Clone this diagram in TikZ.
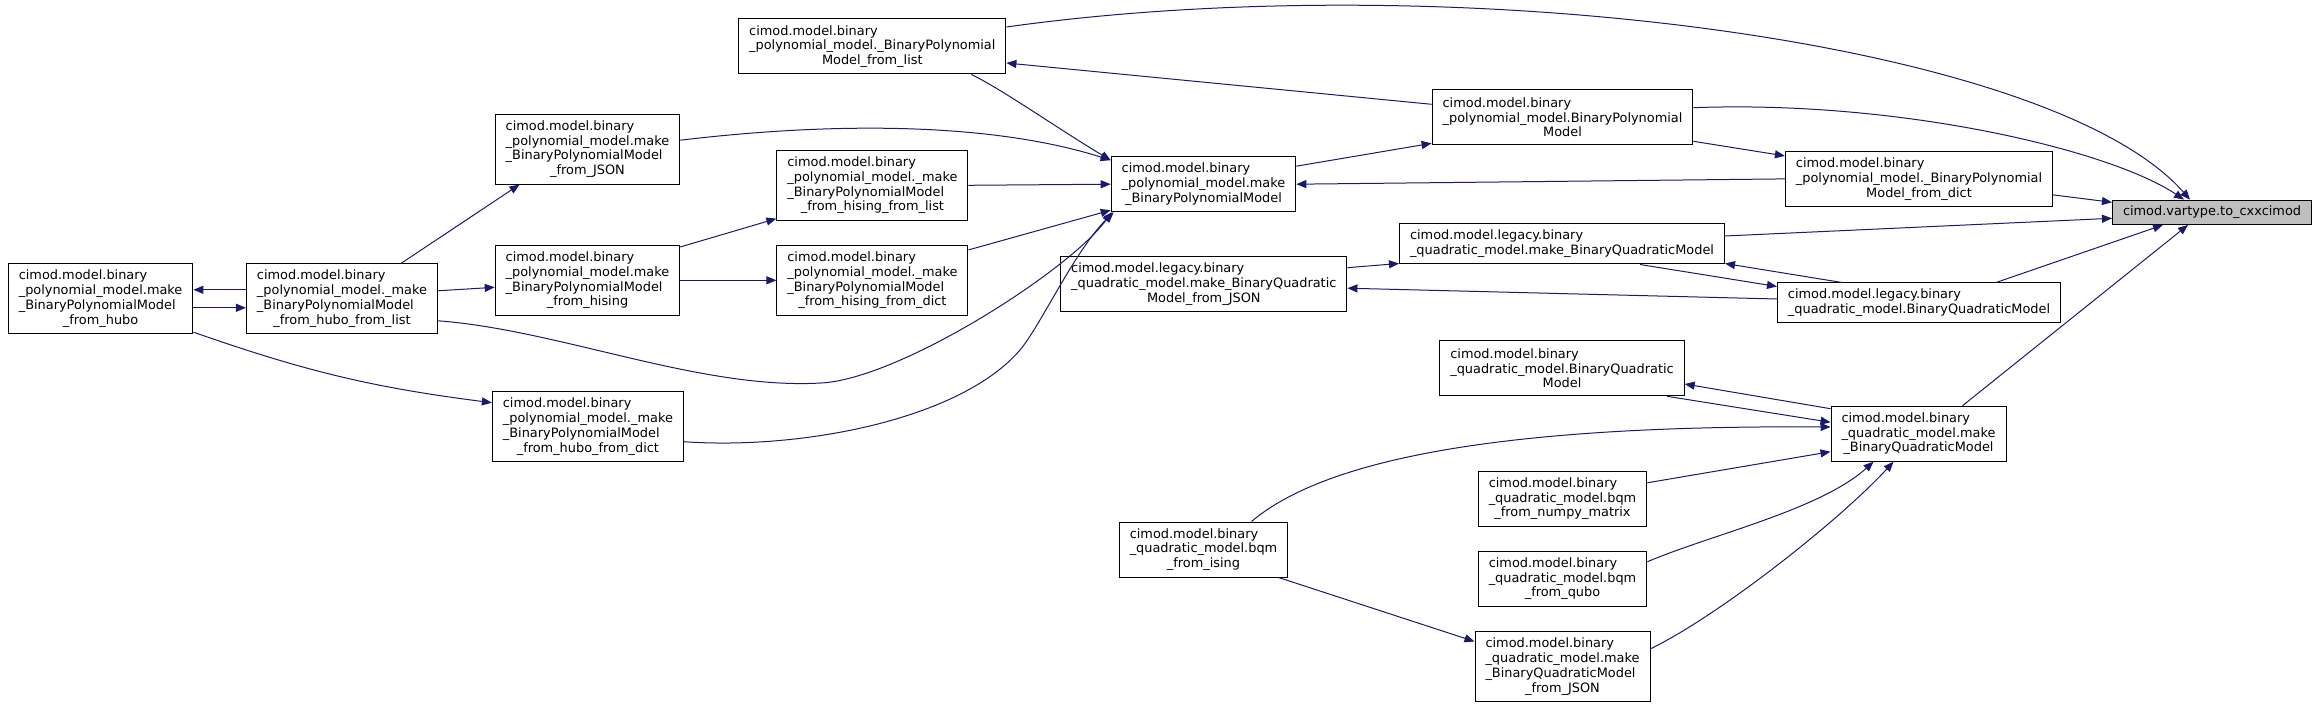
\documentclass[tikz,border=0pt]{standalone}
\usepackage{fontspec}
\setmainfont{DejaVu Sans}
\usetikzlibrary{arrows.meta}
\definecolor{callblue}{HTML}{191970}
\definecolor{focusfill}{HTML}{BFBFBF}
\tikzset{
  func/.style={
    draw=black,
    line width=1pt,
    fill=white,
    align=left,
    font=\fontsize{12.9pt}{14.8pt}\selectfont,
    inner xsep=10.5pt,
    inner ysep=0pt,
    minimum height=55pt
  },
  rowsone/.style={minimum height=24.3pt},
  rowstwo/.style={minimum height=40pt},
  rowsfour/.style={minimum height=69.7pt},
  focus/.style={fill=focusfill},
  call/.style={draw=callblue, line width=1pt, -{Triangle[length=10pt,width=8pt]}}
}

\begin{document}
\begin{tikzpicture}[x=1pt,y=-1pt]
\useasboundingbox (0,0) rectangle (2319,708);

% --- Target ---
\node[func, focus, rowsone] (cxx) at (2212,212.3) {cimod.vartype.to\_cxxcimod};

% --- Binary polynomial model ---
\node[func] (bpmlist) at (872.3,46.5) {cimod.model.binary\\\_polynomial\_model.\_BinaryPolynomial\\\hfil Model\_from\_list};
\node[func] (bpm) at (1562.5,117.3) {cimod.model.binary\\\_polynomial\_model.BinaryPolynomial\\\hfil Model};
\node[func] (mkbpm) at (1203.5,184.2) {cimod.model.binary\\\_polynomial\_model.make\\\hfil\_BinaryPolynomialModel};
\node[func] (bpmdict) at (1919,178.9) {cimod.model.binary\\\_polynomial\_model.\_BinaryPolynomial\\\hfil Model\_from\_dict};
\node[func, rowsfour] (bpmjson) at (587.5,149.2) {cimod.model.binary\\\_polynomial\_model.make\\\_BinaryPolynomialModel\\\hfil\_from\_JSON};
\node[func, rowsfour] (hislist) at (872.4,185.3) {cimod.model.binary\\\_polynomial\_model.\_make\\\_BinaryPolynomialModel\\\hfil\_from\_hising\_from\_list};
\node[func, rowsfour] (hising) at (587.5,280.3) {cimod.model.binary\\\_polynomial\_model.make\\\_BinaryPolynomialModel\\\hfil\_from\_hising};
\node[func, rowsfour] (hisdict) at (872.4,280.3) {cimod.model.binary\\\_polynomial\_model.\_make\\\_BinaryPolynomialModel\\\hfil\_from\_hising\_from\_dict};
\node[func, rowsfour] (hubo) at (100.6,298.8) {cimod.model.binary\\\_polynomial\_model.make\\\_BinaryPolynomialModel\\\hfil\_from\_hubo};
\node[func, rowsfour] (hubolist) at (342,298.8) {cimod.model.binary\\\_polynomial\_model.\_make\\\_BinaryPolynomialModel\\\hfil\_from\_hubo\_from\_list};
\node[func, rowsfour] (hubodict) at (587.9,426.7) {cimod.model.binary\\\_polynomial\_model.\_make\\\_BinaryPolynomialModel\\\hfil\_from\_hubo\_from\_dict};

% --- Legacy binary quadratic model ---
\node[func, rowstwo] (lmkbqm) at (1562,244) {cimod.model.legacy.binary\\\hfil\_quadratic\_model.make\_BinaryQuadraticModel};
\node[func] (ljson) at (1203.8,284.2) {cimod.model.legacy.binary\\\_quadratic\_model.make\_BinaryQuadratic\\\hfil Model\_from\_JSON};
\node[func, rowstwo] (lbqm) at (1919,303) {cimod.model.legacy.binary\\\hfil\_quadratic\_model.BinaryQuadraticModel};

% --- Binary quadratic model ---
\node[func] (bqm) at (1562,368.3) {cimod.model.binary\\\_quadratic\_model.BinaryQuadratic\\\hfil Model};
\node[func] (mkbqm) at (1918.5,433.7) {cimod.model.binary\\\_quadratic\_model.make\\\hfil\_BinaryQuadraticModel};
\node[func] (numpy) at (1562.5,498.8) {cimod.model.binary\\\_quadratic\_model.bqm\\\hfil\_from\_numpy\_matrix};
\node[func] (qubo) at (1562.5,578.8) {cimod.model.binary\\\_quadratic\_model.bqm\\\hfil\_from\_qubo};
\node[func] (ising) at (1203.5,549.5) {cimod.model.binary\\\_quadratic\_model.bqm\\\hfil\_from\_ising};
\node[func, rowsfour] (qjson) at (1562.5,666.8) {cimod.model.binary\\\_quadratic\_model.make\\\_BinaryQuadraticModel\\\hfil\_from\_JSON};

% Calls into the target.
\draw[call] ([yshift=19.5pt]bpmlist.east) .. controls (1450,-35) and (2050,40) .. ([xshift=-22pt]cxx.north);
\draw[call] ([yshift=9.6pt]bpm.east) .. controls (1900,100) and (2110,150) .. ([xshift=-28pt]cxx.north);
\draw[call] ([yshift=-16pt]bpmdict.east) -- ([yshift=10pt]cxx.west);
\draw[call] ([yshift=8pt]lmkbqm.east) -- ([yshift=-6pt]cxx.west);
\draw[call] ([xshift=77pt]lbqm.north) -- ([xshift=-49pt]cxx.south);
\draw[call] ([xshift=44pt]mkbqm.north) -- ([xshift=-24pt]cxx.south);

% Polynomial model calls.
\draw[call] ([yshift=18pt]mkbpm.east) -- ([yshift=2pt]bpm.south west);
\draw[call] ([yshift=4pt]bpm.south east) -- ([yshift=-5pt]bpmdict.north west);
\draw[call] ([yshift=13pt]bpm.west) -- ([yshift=-16.5pt]bpmlist.east);
\draw[call] (bpmdict.west) -- (mkbpm.east);
\draw[call] ([xshift=99pt]bpmlist.south) .. controls (1000,88) and (1060,130) .. ([yshift=-4pt]mkbpm.north west);
\draw[call] ([yshift=9pt]bpmjson.east) .. controls (850,120) and (1000,125) .. ([yshift=-4pt]mkbpm.north west);
\draw[call] (hislist.east) -- (mkbpm.west);
\draw[call] ([yshift=-5pt]hisdict.north east) -- ([yshift=2pt]mkbpm.south west);
\draw[call] ([yshift=-22pt]hubolist.east) .. controls (560,330) and (700,390) .. (821,383)
  .. controls (900,379) and (1070,270) .. ([xshift=1pt]mkbpm.south west);
\draw[call] ([yshift=-15pt]hubodict.east) .. controls (800,450) and (960,420) .. (1020,350)
  .. controls (1040,326.7) and (1075,250) .. ([xshift=3pt]mkbpm.south west);

% Hubo / hising chain.
\draw[call] ([yshift=9pt]hubolist.west) -- ([yshift=9pt]hubo.east);
\draw[call] ([yshift=-9pt]hubo.east) -- ([yshift=-9pt]hubolist.west);
\draw[call] ([xshift=59pt]hubolist.north) -- ([xshift=-68pt]bpmjson.south);
\draw[call] ([yshift=8pt]hubolist.east) -- ([yshift=-7pt]hising.west);
\draw[call] ([yshift=-2pt]hising.north east) -- ([yshift=2pt]hislist.south west);
\draw[call] (hising.east) -- (hisdict.west);
\draw[call] ([yshift=2pt]hubo.south east) to[bend right=6] ([yshift=24pt]hubodict.west);

% Legacy calls.
\draw[call] ([yshift=16.5pt]ljson.east) -- ([yshift=1pt]lmkbqm.south west);
\draw[call] ([yshift=4pt]lbqm.west) -- ([yshift=-4pt]ljson.east);
\draw[call] ([xshift=78pt]lmkbqm.south) -- ([yshift=-4pt]lbqm.north west);
\draw[call] ([xshift=-77pt]lbqm.north) -- ([yshift=1pt]lmkbqm.south east);

% Quadratic model calls.
\draw[call] ([yshift=-3pt]mkbqm.north west) -- ([yshift=-15.7pt]bqm.east);
\draw[call] ([xshift=105pt]bqm.south) -- ([yshift=11.4pt]mkbqm.west);
\draw[call] ([xshift=48pt]ising.north) .. controls (1330,455) and (1520,425) .. ([yshift=6.7pt]mkbqm.west);
\draw[call] ([yshift=16pt]numpy.east) -- ([yshift=-18pt]mkbqm.west);
\draw[call] ([yshift=17pt]qubo.east) .. controls (1710,535) and (1820,510) .. ([xshift=-45pt]mkbqm.south);
\draw[call] ([xshift=75pt]ising.south) -- ([yshift=-10pt]qjson.north west);
\draw[call] ([yshift=18pt]qjson.east) .. controls (1720,615) and (1840,520) .. ([xshift=-25pt]mkbqm.south);

\end{tikzpicture}
\end{document}
